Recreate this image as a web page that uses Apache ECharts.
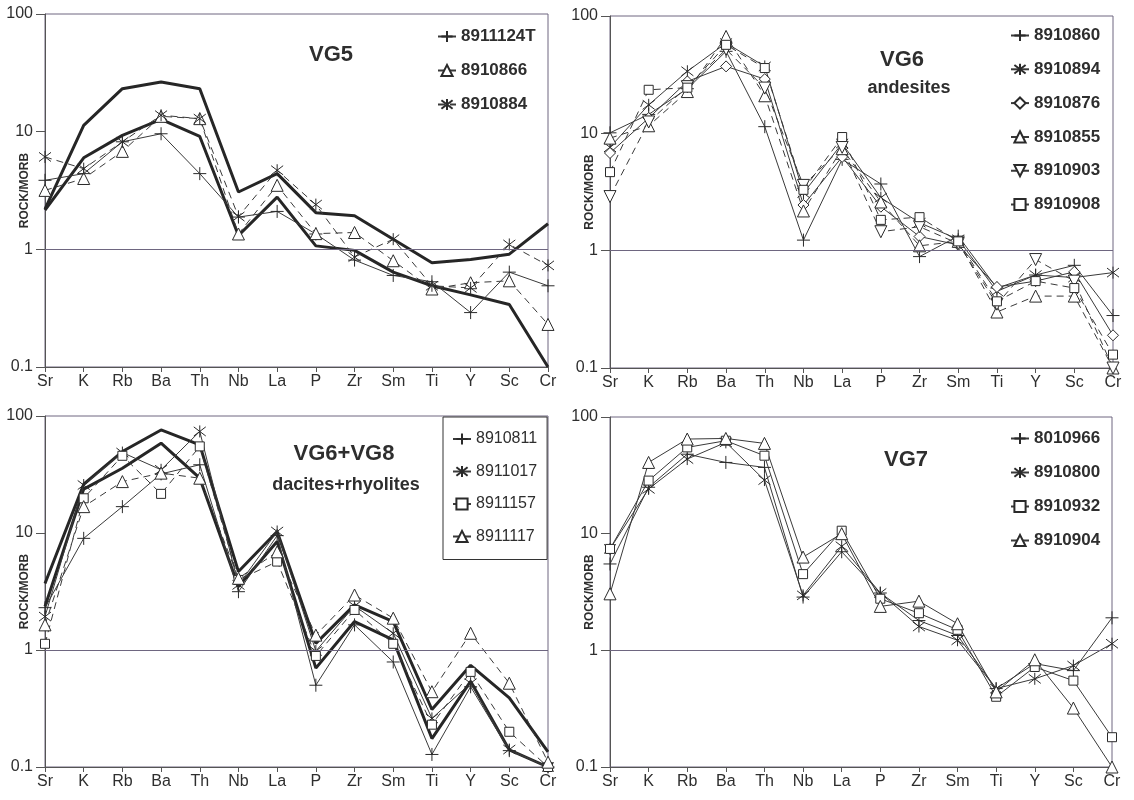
<!DOCTYPE html>
<html>
<head>
<meta charset="utf-8">
<title>ROCK/MORB spider diagrams</title>
<script src="https://cdn.jsdelivr.net/npm/echarts@6/dist/echarts.min.js"></script>
<style>
  html, body { margin: 0; padding: 0; background: #fff; }
  #chart { width: 1134px; height: 800px; }
</style>
</head>
<body>
<div id="chart"></div>
<script>
// Element order on the x axis
const elements = ['Sr', 'K', 'Rb', 'Ba', 'Th', 'Nb', 'La', 'P', 'Zr', 'Sm', 'Ti', 'Y', 'Sc', 'Cr'];
const yTicks = [0.1, 1, 10, 100];

// VG5
const vg5Max = [2.2, 11.3, 23.2, 26.4, 23.2, 3.07, 4.4, 2.05, 1.93, 1.22, 0.77, 0.82, 0.91, 1.65];
const vg5Min = [2.15, 6.0, 9.3, 12.7, 9.1, 1.31, 2.78, 1.07, 0.98, 0.64, 0.49, 0.41, 0.34, 0.1];
const s8911124T = [3.86, 4.4, 8.2, 9.6, 4.4, 1.88, 2.1, 1.35, 0.81, 0.60, 0.53, 0.29, 0.64, 0.49];
const s8910866 = [3.17, 4.0, 6.8, 13.5, 12.9, 1.35, 3.5, 1.36, 1.39, 0.80, 0.46, 0.52, 0.54, 0.23];
const s8910884 = [6.1, 4.85, 8.2, 13.8, 12.9, 1.9, 4.7, 2.4, 0.86, 1.22, 0.49, 0.47, 1.1, 0.73];

// VG6 andesites
const s8910860 = [10.1, 14.5, 24, 50, 11.4, 1.23, 6.0, 3.7, 0.89, 1.33, 0.48, 0.62, 0.75, 0.28];
const s8910894 = [7.6, 17.5, 33.8, 58.8, 37.2, 3.1, 8.2, 2.83, 1.73, 1.25, 0.45, 0.62, 0.59, 0.65];
const s8910876 = [6.8, 13.5, 27.7, 37.2, 29, 2.45, 6.3, 2.37, 1.32, 1.12, 0.49, 0.55, 0.66, 0.19];
const s8910855 = [9.1, 11.6, 22.7, 67, 20.9, 2.18, 7.4, 2.6, 1.1, 1.2, 0.30, 0.41, 0.41, 0.10];
const s8910903 = [2.89, 12.5, 25, 52, 24.3, 3.6, 7.6, 1.45, 1.6, 1.15, 0.35, 0.84, 0.55, 0.10];
const s8910908 = [4.67, 23.5, 24.5, 56.8, 36, 3.3, 9.3, 1.83, 1.93, 1.2, 0.37, 0.55, 0.48, 0.13];

// VG6+VG8 dacites+rhyolites
const vg68Max = [3.7, 26.1, 49.7, 76, 56.7, 4.68, 10.3, 1.14, 2.43, 1.75, 0.31, 0.74, 0.39, 0.135];
const vg68Min = [2.35, 23.7, 35.8, 58.6, 29.4, 3.48, 8.45, 0.70, 1.75, 1.22, 0.175, 0.54, 0.14, 0.1];
const s8910811 = [2.3, 9.0, 16.8, 32, 38.3, 3.15, 9.5, 0.50, 1.64, 0.79, 0.128, 0.485, 0.138, 0.1];
const s8911017 = [1.93, 25.7, 48.7, 34.7, 73.8, 3.6, 10.3, 0.98, 2.38, 1.39, 0.26, 0.52, 0.141, 0.1];
const s8911157 = [1.13, 19.8, 45.7, 21.6, 55, 3.97, 5.7, 0.89, 2.2, 1.13, 0.23, 0.65, 0.20, 0.1];
const s8911117 = [1.64, 16.8, 27.5, 32.5, 29.4, 4.1, 6.9, 1.34, 2.95, 1.87, 0.44, 1.39, 0.52, 0.11];

// VG7
const s8010966 = [5.5, 25, 48, 40.8, 37, 2.86, 7.0, 3.1, 1.8, 1.34, 0.47, 0.77, 0.67, 1.9];
const s8910800 = [7.4, 24.2, 43.6, 60.6, 28.8, 2.96, 7.8, 3.1, 1.6, 1.22, 0.47, 0.57, 0.74, 1.14];
const s8910932 = [7.4, 28.5, 54.9, 62.6, 46.6, 4.5, 10.6, 2.77, 2.08, 1.5, 0.40, 0.72, 0.55, 0.18];
const s8910904 = [3.05, 40.8, 64.7, 65.5, 59.4, 6.3, 10.0, 2.38, 2.64, 1.69, 0.44, 0.83, 0.32, 0.1];

const FONT = '"Liberation Sans", Arial, sans-serif';
const INK = '#2e2e2e';
const FRAME = '#6e6680';

// Marker shapes
const MARK = {
  plus: 'path://M0,5L10,5M5,0L5,10',
  star: 'path://M5,0L5,10M1.2,1.2L8.8,8.8M8.8,1.2L1.2,8.8',
  tri: 'triangle',
  triDown: 'path://M0,0L10,0L5,9Z',
  square: 'rect',
  diamond: 'diamond'
};

function sample(name, data, idx, mark, size, dashed) {
  return {
    name: name,
    type: 'line',
    xAxisIndex: idx,
    yAxisIndex: idx,
    data: data,
    symbol: MARK[mark],
    symbolSize: size,
    showAllSymbol: true,
    z: 3,
    lineStyle: { color: '#3a3a3a', width: 1, type: dashed ? [7, 5] : 'solid' },
    itemStyle: { color: '#fff', borderColor: '#2a2a2a', borderWidth: 1 },
    emphasis: { disabled: true }
  };
}

function envelope(name, data, idx) {
  return {
    name: name,
    type: 'line',
    xAxisIndex: idx,
    yAxisIndex: idx,
    data: data,
    symbol: 'none',
    z: 2,
    lineStyle: { color: '#262626', width: 3 },
    emphasis: { disabled: true }
  };
}

// Horizontal reference line at ROCK/MORB = 1
function unityLine(idx) {
  return {
    name: 'unity' + idx,
    type: 'line',
    xAxisIndex: idx,
    yAxisIndex: idx,
    data: [],
    z: 1,
    markLine: {
      silent: true,
      symbol: 'none',
      label: { show: false },
      lineStyle: { color: FRAME, width: 1, type: 'solid' },
      data: [{ yAxis: 1 }]
    }
  };
}

const grids = [
  { left: 45, top: 14, width: 503, height: 353 },
  { left: 610, top: 16, width: 503, height: 352 },
  { left: 45, top: 416, width: 503, height: 351 },
  { left: 610, top: 417, width: 502, height: 350 }
].map(g => Object.assign({
  show: true, borderColor: FRAME, borderWidth: 1, backgroundColor: 'transparent',
  containLabel: false, outerBoundsMode: 'none'
}, g));

const xAxes = grids.map((g, i) => ({
  type: 'category',
  gridIndex: i,
  data: elements,
  boundaryGap: false,
  axisLine: { lineStyle: { color: '#555', width: 1 } },
  axisTick: { show: true, inside: false, length: 5, lineStyle: { color: '#555' } },
  axisLabel: { interval: 0, margin: 7, fontSize: 16, fontFamily: FONT, color: INK },
  splitLine: { show: false }
}));

const yAxes = grids.map((g, i) => ({
  type: 'log',
  logBase: 10,
  gridIndex: i,
  min: yTicks[0],
  max: yTicks[yTicks.length - 1],
  splitNumber: 3,
  name: 'ROCK/MORB',
  nameLocation: 'middle',
  nameRotate: 90,
  nameGap: 14,
  nameMoveOverlap: false,
  nameTextStyle: { fontSize: 12, fontWeight: 'bold', fontFamily: FONT, color: INK },
  axisLine: { show: true, lineStyle: { color: '#555', width: 1 } },
  axisTick: { show: true, inside: false, length: 9, lineStyle: { color: '#555' } },
  axisLabel: {
    margin: 12, fontSize: 16, fontFamily: FONT, color: INK,
    formatter: v => String(+v.toPrecision(3))
  },
  splitLine: { show: false },
  minorTick: { show: false }
}));

const boldLegendText = { fontSize: 17, fontWeight: 'bold', fontFamily: FONT, color: INK };

const legends = [
  {
    left: 437, top: 28, orient: 'vertical', itemWidth: 18, itemHeight: 14, itemGap: 17,
    padding: 0, selectedMode: false, textStyle: boldLegendText,
    data: ['8911124T', '8910866', '8910884']
  },
  {
    left: 1010, top: 27, orient: 'vertical', itemWidth: 18, itemHeight: 14, itemGap: 16.8,
    padding: 0, selectedMode: false, textStyle: boldLegendText,
    data: ['8910860', '8910894', '8910876', '8910855', '8910903', '8910908']
  },
  {
    left: 443, top: 417, orient: 'vertical', itemWidth: 18, itemHeight: 14, itemGap: 16.5,
    padding: [14, 10, 15, 9], borderColor: '#333', borderWidth: 1, backgroundColor: '#fff',
    selectedMode: false,
    textStyle: { fontSize: 16, fontWeight: 'normal', fontFamily: FONT, color: INK },
    data: ['8910811', '8911017', '8911157', '8911117']
  },
  {
    left: 1010, top: 430, orient: 'vertical', itemWidth: 18, itemHeight: 14, itemGap: 17,
    padding: 0, selectedMode: false, textStyle: boldLegendText,
    data: ['8010966', '8910800', '8910932', '8910904']
  }
];

const titleStyle = { fontSize: 22, fontWeight: 'bold', fontFamily: FONT, color: INK };
const subStyle = { fontSize: 18, fontWeight: 'bold', fontFamily: FONT, color: INK };
const titles = [
  { text: 'VG5', left: 331, top: 44, textAlign: 'center', padding: 0, textStyle: titleStyle },
  { text: 'VG6', left: 902, top: 49, textAlign: 'center', padding: 0, textStyle: titleStyle },
  { text: 'andesites', left: 909, top: 79, textAlign: 'center', padding: 0, textStyle: subStyle },
  { text: 'VG6+VG8', left: 344, top: 443, textAlign: 'center', padding: 0, textStyle: titleStyle },
  { text: 'dacites+rhyolites', left: 346, top: 476, textAlign: 'center', padding: 0, textStyle: subStyle },
  { text: 'VG7', left: 906, top: 449, textAlign: 'center', padding: 0, textStyle: titleStyle }
];

const series = [
  unityLine(0), unityLine(1), unityLine(2), unityLine(3),

  envelope('VG5 max', vg5Max, 0),
  envelope('VG5 min', vg5Min, 0),
  sample('8911124T', s8911124T, 0, 'plus', 13, false),
  sample('8910866', s8910866, 0, 'tri', 12, true),
  sample('8910884', s8910884, 0, 'star', 12, true),

  sample('8910860', s8910860, 1, 'plus', 13, false),
  sample('8910894', s8910894, 1, 'star', 12, false),
  sample('8910876', s8910876, 1, 'diamond', 11, false),
  sample('8910855', s8910855, 1, 'tri', 12, true),
  sample('8910903', s8910903, 1, 'triDown', 12, true),
  sample('8910908', s8910908, 1, 'square', 9, true),

  envelope('VG6+VG8 max', vg68Max, 2),
  envelope('VG6+VG8 min', vg68Min, 2),
  sample('8910811', s8910811, 2, 'plus', 13, false),
  sample('8911017', s8911017, 2, 'star', 12, false),
  sample('8911157', s8911157, 2, 'square', 9, true),
  sample('8911117', s8911117, 2, 'tri', 12, true),

  sample('8010966', s8010966, 3, 'plus', 13, false),
  sample('8910800', s8910800, 3, 'star', 12, false),
  sample('8910932', s8910932, 3, 'square', 9, false),
  sample('8910904', s8910904, 3, 'tri', 12, false)
];

const chart = echarts.init(document.getElementById('chart'), null, { renderer: 'canvas' });
chart.setOption({
  backgroundColor: '#fff',
  animation: false,
  title: titles,
  legend: legends,
  grid: grids,
  xAxis: xAxes,
  yAxis: yAxes,
  series: series
});
</script>
</body>
</html>
